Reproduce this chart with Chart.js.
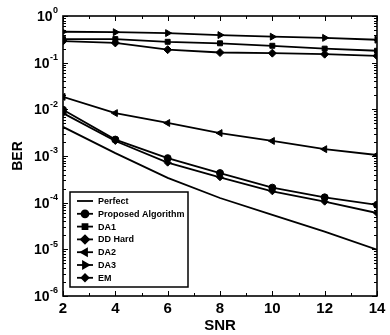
<!DOCTYPE html>
<html>
<head>
<meta charset="utf-8">
<script src="https://cdn.jsdelivr.net/npm/chart.js@4.4.1/dist/chart.umd.min.js"></script>
<style>
  html, body { margin: 0; padding: 0; background: #fff; }
  canvas { display: block; }
</style>
</head>
<body>
<canvas id="ber-chart" width="390" height="335"></canvas>
<script>
const snr = [2, 4, 6, 8, 10, 12, 14];
const perfect = [4.2e-3, 1.15e-3, 3.4e-4, 1.26e-4, 5.5e-5, 2.4e-5, 9.8e-6];
const proposed = [9.8e-3, 2.25e-3, 9.0e-4, 4.3e-4, 2.1e-4, 1.3e-4, 9.0e-5];
const da1 = [0.32, 0.32, 0.28, 0.26, 0.23, 0.2, 0.18];
const ddHard = [0.29, 0.265, 0.19, 0.165, 0.16, 0.152, 0.14];
const da2 = [1.85e-2, 8.3e-3, 5.1e-3, 3.1e-3, 2.1e-3, 1.4e-3, 1.05e-3];
const da3 = [0.46, 0.45, 0.43, 0.39, 0.36, 0.34, 0.31];
const em = [8.3e-3, 2.1e-3, 7.2e-4, 3.5e-4, 1.75e-4, 1.05e-4, 6.0e-5];
const yExponents = [0, -1, -2, -3, -4, -5, -6];

const FONT = "'Liberation Sans', Arial, sans-serif";

function series(label, values, pointStyle, radius, rotation) {
  return {
    label: label,
    data: values.map((v, i) => ({ x: snr[i], y: v })),
    borderColor: "#000",
    backgroundColor: "#000",
    borderWidth: 1.8,
    pointStyle: pointStyle || "circle",
    pointRadius: radius,
    pointRotation: rotation || 0,
    pointBackgroundColor: "#000",
    pointBorderColor: "#000",
    pointBorderWidth: 1,
    tension: 0,
  };
}

// frame, inward ticks, y labels with superscripts, legend box
const decorations = {
  id: "decorations",
  afterDraw(chart) {
    const ctx = chart.ctx;
    const ca = chart.chartArea;
    const xs = chart.scales.x;
    const ys = chart.scales.y;
    ctx.save();
    ctx.strokeStyle = "#000";
    ctx.fillStyle = "#000";

    ctx.lineWidth = 1.6;
    ctx.strokeRect(ca.left, ca.top, ca.right - ca.left, ca.bottom - ca.top);

    ctx.lineWidth = 1;
    ctx.beginPath();
    for (let v = 2; v <= 14; v++) {
      const px = Math.round(xs.getPixelForValue(v)) + 0.5;
      const len = v % 2 === 0 ? 5 : 3;
      ctx.moveTo(px, ca.bottom); ctx.lineTo(px, ca.bottom - len);
      ctx.moveTo(px, ca.top); ctx.lineTo(px, ca.top + len);
    }
    for (let e = -6; e <= 0; e++) {
      for (let m = 1; m <= 9; m++) {
        const val = m * Math.pow(10, e);
        if (val > 1) break;
        const py = Math.round(ys.getPixelForValue(val)) + 0.5;
        const len = m === 1 ? 5 : 3;
        ctx.moveTo(ca.left, py); ctx.lineTo(ca.left + len, py);
        ctx.moveTo(ca.right, py); ctx.lineTo(ca.right - len, py);
      }
    }
    ctx.stroke();

    // y tick labels 10^e
    ctx.textBaseline = "middle";
    yExponents.forEach(e => {
      const py = ys.getPixelForValue(Math.pow(10, e));
      const expText = e === 0 ? "0" : "-" + Math.abs(e);
      ctx.font = "bold 9px " + FONT;
      const expW = ctx.measureText(expText).width;
      const right = ca.left - 5;
      ctx.textAlign = "right";
      ctx.fillText(expText, right, py - 5);
      ctx.font = "bold 14px " + FONT;
      ctx.fillText("10", right - expW - 0.5, py + 1);
    });

    // legend
    const box = { left: ca.left + 7, top: ca.bottom - 104, right: ca.left + 125, bottom: ca.bottom - 9 };
    ctx.fillStyle = "#fff";
    ctx.fillRect(box.left, box.top, box.right - box.left, box.bottom - box.top);
    ctx.lineWidth = 1.5;
    ctx.strokeRect(box.left, box.top, box.right - box.left, box.bottom - box.top);
    ctx.fillStyle = "#000";
    ctx.font = "bold 9px " + FONT;
    ctx.textAlign = "left";
    chart.data.datasets.forEach((ds, i) => {
      const py = box.top + 9 + i * 12.8;
      ctx.lineWidth = ds.borderWidth;
      ctx.beginPath();
      ctx.moveTo(box.left + 7, py);
      ctx.lineTo(box.left + 23, py);
      ctx.stroke();
      if (ds.pointRadius > 0) {
        Chart.helpers.drawPoint(ctx, {
          pointStyle: ds.pointStyle,
          radius: ds.pointRadius,
          rotation: ds.pointRotation,
          borderWidth: 1,
        }, box.left + 15, py);
      }
      ctx.fillText(ds.label, box.left + 28, py + 0.5);
    });
    ctx.restore();
  },
};

new Chart(document.getElementById("ber-chart"), {
  type: "line",
  data: {
    datasets: [
      series("Perfect", perfect, "circle", 0),
      series("Proposed Algorithm", proposed, "circle", 3.5),
      series("DA1", da1, "rect", 3.5),
      series("DD Hard", ddHard, "rectRot", 4),
      series("DA2", da2, "triangle", 4, -90),
      series("DA3", da3, "triangle", 4, 90),
      series("EM", em, "rectRot", 3.5),
    ],
  },
  options: {
    responsive: false,
    animation: false,
    devicePixelRatio: 1,
    layout: { padding: { left: 0, right: 13, top: 16, bottom: 0 } },
    plugins: {
      legend: { display: false },
      tooltip: { enabled: false },
    },
    scales: {
      x: {
        type: "linear",
        min: 2,
        max: 14,
        grid: { display: false, drawTicks: false, tickLength: 0 },
        border: { display: false },
        ticks: {
          stepSize: 2,
          padding: 4,
          color: "#000",
          font: { family: FONT, size: 15, weight: "bold" },
        },
        title: {
          display: true,
          text: "SNR",
          color: "#000",
          padding: { top: 0, bottom: 0 },
          font: { family: FONT, size: 15, weight: "bold" },
        },
        afterFit(scale) { scale.height = 39; },
      },
      y: {
        type: "logarithmic",
        min: 1e-6,
        max: 1,
        grid: { display: false, drawTicks: false, tickLength: 0 },
        border: { display: false },
        ticks: { display: false },
        title: {
          display: true,
          text: "BER",
          color: "#000",
          padding: { top: 10, bottom: 0 },
          font: { family: FONT, size: 14, weight: "bold" },
        },
        afterFit(scale) { scale.width = 63; },
      },
    },
  },
  plugins: [decorations],
});
</script>
</body>
</html>
